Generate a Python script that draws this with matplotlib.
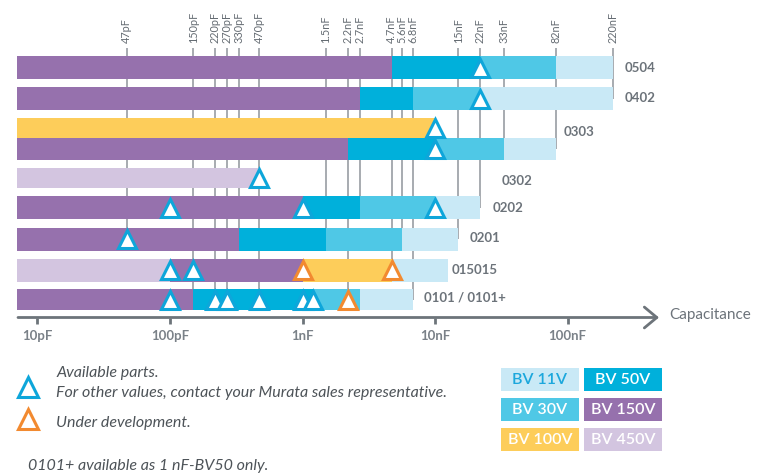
import numpy as np
import matplotlib
matplotlib.use("Agg")
import matplotlib.pyplot as plt
from matplotlib.patches import Rectangle
from matplotlib.lines import Line2D

# ---------------- data ----------------
rows = ["0504", "0402", "0303a", "0303b", "0302", "0202", "0201", "015015", "0101"]
row_labels = ["0504", "0402", "0303", "", "0302", "0202", "0201", "015015", "0101 / 0101+"]

# segment edges (pF) and rated voltage of each segment
edges = {
    "0504":   [7, 4700, 22000, 82000, 220000],
    "0402":   [7, 2700, 6800, 22000, 220000],
    "0303a":  [7, 10000],
    "0303b":  [7, 2200, 10000, 33000, 82000],
    "0302":   [7, 470],
    "0202":   [7, 1000, 2700, 10000, 22000],
    "0201":   [7, 330, 1500, 5600, 15000],
    "015015": [7, 100, 1000, 4700, 12500],
    "0101":   [7, 150, 1200, 2700, 6800],
}
volts = {
    "0504":   [150, 50, 30, 11],
    "0402":   [150, 50, 30, 11],
    "0303a":  [100],
    "0303b":  [150, 50, 30, 11],
    "0302":   [450],
    "0202":   [150, 50, 30, 11],
    "0201":   [150, 50, 30, 11],
    "015015": [450, 150, 100, 11],
    "0101":   [150, 50, 30, 11],
}
available = {
    "0504": [22000], "0402": [22000], "0303a": [10000], "0303b": [10000],
    "0302": [470], "0202": [100, 1000, 10000], "0201": [47],
    "015015": [100, 150], "0101": [100, 220, 270, 470, 1000, 1200],
}
development = {"015015": [1000, 4700], "0101": [2200]}

ref_values = [47, 150, 220, 270, 330, 470, 1500, 2200, 2700, 4700, 5600, 6800,
              15000, 22000, 33000, 82000, 220000]
ref_labels = ["47pF", "150pF", "220pF", "270pF", "330pF", "470pF", "1.5nF", "2.2nF",
              "2.7nF", "4.7nF", "5.6nF", "6.8nF", "15nF", "22nF", "33nF", "82nF", "220nF"]
ref_end_row = ["0201", "0101", "0101", "0101", "0201", "0101", "0201", "0101", "0202",
               "015015", "0201", "0101", "0201", "0202", "0303b", "0303b", "0402"]

axis_ticks = [10, 100, 1000, 10000, 100000]
axis_tick_labels = ["10pF", "100pF", "1nF", "10nF", "100nF"]

legend_volts = [11, 50, 30, 150, 100, 450]
legend_names = ["BV 11V", "BV 50V", "BV 30V", "BV 150V", "BV 100V", "BV 450V"]

# ---------------- style / layout ----------------
colors = {11: "#c9e9f6", 30: "#4fc8e6", 50: "#00b0db", 100: "#fdcd5a",
          150: "#9671ad", 450: "#d3c5e0"}
legend_text_colors = {11: "#1ba7dc", 30: "white", 50: "white", 100: "white",
                      150: "white", 450: "white"}
blue_tri = "#0ea6da"
orange_tri = "#f28a30"
line_col = "#8f959b"
axis_col = "#6d747a"
text_col = "#6c737a"

W, H = 760, 475
X0, DEC = 37.5, 132.5          # pixel of 10 pF, pixels per decade


def cap(px):
    return 10.0 * 10 ** ((px - X0) / DEC)


row_y = {"0504": 67.5, "0402": 98.5, "0303a": 128, "0303b": 149, "0302": 178,
         "0202": 207.5, "0201": 239.3, "015015": 270.3, "0101": 299.5}
row_h = {"0504": 23, "0402": 23, "0303a": 20, "0303b": 22, "0302": 20,
         "0202": 23, "0201": 22.7, "015015": 22.7, "0101": 21}
label_x = {"0504": 2.72e5, "0402": 2.72e5, "0303a": 9.41e4, "0302": 3.2e4,
           "0202": 2.73e4, "0201": 1.81e4, "015015": 1.34e4, "0101": 8.26e3}
label_y = {"0504": 67.5, "0402": 98.5, "0303a": 131.5, "0302": 181,
           "0202": 208.5, "0201": 237.5, "015015": 270, "0101": 298}

plt.rcParams["font.family"] = ["Lato", "DejaVu Sans"]

fig = plt.figure(figsize=(W / 100, H / 100), dpi=100)
ax = fig.add_axes([0, 0, 1, 1])
ax.set_xscale("log")
ax.set_xlim(cap(0), cap(W))
ax.set_ylim(H, 0)
ax.axis("off")

# reference lines + labels
for v, lab, er in zip(ref_values, ref_labels, ref_end_row):
    ax.vlines(v, 48, row_y[er], color=line_col, lw=1.1, zorder=1)
    ax.text(v, 43, lab, rotation=90, ha="center", va="bottom", fontsize=7.8,
            color="#646b72", zorder=5)

# bars
for r in rows:
    e = edges[r]
    for s, t, bv in zip(e[:-1], e[1:], volts[r]):
        ax.barh(row_y[r], t - s, left=s, height=row_h[r], color=colors[bv],
                linewidth=0, zorder=2)

# triangles
for r, vals in available.items():
    ax.plot(vals, [row_y[r]] * len(vals), ls="none", marker="^", ms=13.5,
            mfc="white", mec=blue_tri, mew=2.2, zorder=4)
for r, vals in development.items():
    ax.plot(vals, [row_y[r]] * len(vals), ls="none", marker="^", ms=13.5,
            mfc="white", mec=orange_tri, mew=2.2, zorder=4)

# row labels
for r, lab in zip(rows, row_labels):
    if lab:
        ax.text(label_x[r], label_y[r], lab, ha="left", va="center", fontsize=9.5,
                fontweight="bold", color=text_col, zorder=5)

# x axis with arrow
axis_y = 317.5
ax.annotate("", xy=(cap(659), axis_y), xytext=(cap(18), axis_y),
            arrowprops=dict(arrowstyle="->,head_length=0.9,head_width=0.75",
                            lw=2, color=axis_col, mutation_scale=10,
                            shrinkA=0, shrinkB=0), zorder=3)
ax.vlines(axis_ticks, axis_y, axis_y + 6.5, color=axis_col, lw=2, zorder=3)
for v, lab in zip(axis_ticks, axis_tick_labels):
    ax.text(v, 336, lab, ha="center", va="center", fontsize=9.5,
            fontweight="bold", color="#7a8188")
ax.text(cap(669), 315.5, "Capacitance", ha="left", va="center", fontsize=11,
        color=text_col)


# ---------------- legends (pixel layout) ----------------
def fx(px):
    return px / W


def fy(py):
    return 1 - py / H


box_x = [501, 584]
box_y = [368, 398, 428]
bw, bh = 78, 23
for i, (bv, name) in enumerate(zip(legend_volts, legend_names)):
    cx = box_x[i % 2]
    cy = box_y[i // 2]
    fig.patches.append(Rectangle((fx(cx), fy(cy + bh)), bw / W, bh / H,
                                 transform=fig.transFigure, color=colors[bv], lw=0))
    fig.text(fx(cx + bw / 2), fy(cy + bh / 2), name, ha="center", va="center",
             fontsize=11.5, fontweight="semibold", color=legend_text_colors[bv])

for py, col in [(386.5, blue_tri), (418.5, orange_tri)]:
    fig.add_artist(Line2D([fx(27.7)], [fy(py)], marker="^", ms=15, mfc="none",
                          mec=col, mew=2.2, ls="none", transform=fig.transFigure))

ital = dict(fontsize=11.5, style="italic", color="#4d5358", ha="left", va="center")
fig.text(fx(56.5), fy(373.5), "Available parts.", **ital)
fig.text(fx(56.5), fy(392.5), "For other values, contact your Murata sales representative.", **ital)
fig.text(fx(56.5), fy(422.5), "Under development.", **ital)
fig.text(fx(28), fy(466), "0101+ available as 1 nF-BV50 only.", **ital)

fig.savefig("out.png", dpi=100)
